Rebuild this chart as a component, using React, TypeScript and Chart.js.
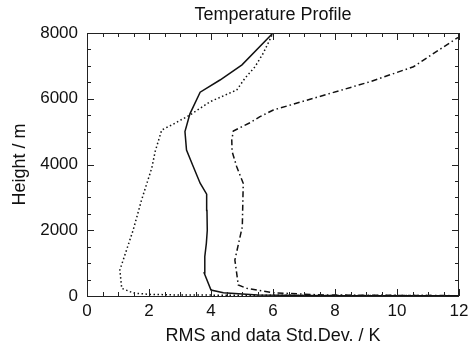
import React, { useEffect, useRef } from "react";
import Chart from "chart.js/auto";

const chartTitle = "Temperature Profile";
const xAxisTitle = "RMS and data Std.Dev. / K";
const yAxisTitle = "Height / m";
const xTickValues = [0, 2, 4, 6, 8, 10, 12];
const yTickValues = [0, 2000, 4000, 6000, 8000];

// Solid profile
const solidX = [12, 8, 5.5, 4.4, 4.0, 3.78, 3.8, 3.85, 3.88, 3.87, 3.86, 3.65, 3.43, 3.21, 3.16, 3.32, 3.65, 4.29, 5.0, 6.0];
const solidY = [5, 10, 30, 100, 180, 700, 1200, 1600, 2000, 2600, 3100, 3430, 3930, 4440, 5000, 5540, 6200, 6570, 7030, 8000];

// Dotted profile
const dottedX = [12, 6, 3, 2, 1.5, 1.12, 1.06, 1.49, 1.76, 2.09, 2.2, 2.41, 2.73, 3.32, 3.97, 4.83, 5.1, 5.42, 5.69, 6.0];
const dottedY = [10, 20, 30, 50, 90, 234, 790, 2007, 2920, 3893, 4400, 5049, 5201, 5505, 5910, 6266, 6630, 6974, 7392, 8000];

// Dash-dot profile
const dashDotX = [12, 7.6, 6.0, 5.15, 4.88, 4.77, 5.01, 5.04, 4.83, 4.68, 4.67, 4.72, 5.26, 5.58, 6.01, 9.13, 10.53, 11.92, 12];
const dashDotY = [10, 30, 100, 234, 335, 1095, 2108, 3428, 3930, 4400, 4745, 5020, 5271, 5454, 5657, 6518, 6974, 7836, 7870];

const toPoints = (xs: number[], ys: number[]) => xs.map((x, i) => ({ x, y: ys[i] }));

const FONT = "'Liberation Sans', Arial, Helvetica, sans-serif";

const framePlugin = {
  id: "frameTicks",
  afterDraw(chart: any) {
    const { ctx, chartArea } = chart;
    const xs = chart.scales.x;
    const ys = chart.scales.y;
    const { left, right, top, bottom } = chartArea;
    ctx.save();
    ctx.strokeStyle = "#222";
    ctx.lineWidth = 1;
    ctx.strokeRect(left + 0.5, top + 0.5, right - left - 1, bottom - top);
    ctx.beginPath();
    for (let v = 0; v <= 12.001; v += 0.5) {
      const px = Math.round(xs.getPixelForValue(v)) + 0.5;
      const len = Math.abs(v % 2) < 1e-6 ? 7 : 4;
      ctx.moveTo(px, bottom);
      ctx.lineTo(px, bottom - len);
      ctx.moveTo(px, top);
      ctx.lineTo(px, top + len);
    }
    for (let v = 0; v <= 8000.1; v += 500) {
      const py = Math.round(ys.getPixelForValue(v)) + 0.5;
      const len = Math.abs(v % 2000) < 1e-6 ? 7 : 4;
      ctx.moveTo(left, py);
      ctx.lineTo(left + len, py);
      ctx.moveTo(right, py);
      ctx.lineTo(right - len, py);
    }
    ctx.stroke();

    ctx.fillStyle = "#111";
    ctx.font = `18px ${FONT}`;
    ctx.textAlign = "center";
    ctx.textBaseline = "middle";
    ctx.fillText(chartTitle, (left + right) / 2, 15);
    ctx.fillText(xAxisTitle, (left + right) / 2, 336);
    ctx.translate(20, (top + bottom) / 2);
    ctx.rotate(-Math.PI / 2);
    ctx.fillText(yAxisTitle, 0, 0);
    ctx.restore();
  },
};

export default function App() {
  const ref = useRef<HTMLCanvasElement | null>(null);
  useEffect(() => {
    if (!ref.current) return;
    const lineBase = {
      showLine: true,
      pointRadius: 0,
      borderColor: "#111",
      borderWidth: 1.5,
      fill: false,
      tension: 0,
    };
    const chart = new Chart(ref.current, {
      type: "scatter",
      data: {
        datasets: [
          { ...lineBase, label: "solid", data: toPoints(solidX, solidY) },
          { ...lineBase, label: "dotted", data: toPoints(dottedX, dottedY), borderDash: [1.5, 2.5] },
          { ...lineBase, label: "dashdot", data: toPoints(dashDotX, dashDotY), borderDash: [6, 3, 1.5, 3] },
        ],
      },
      options: {
        animation: false,
        responsive: false,
        devicePixelRatio: 1,
        layout: { padding: { top: 33, right: 9, left: 0, bottom: 0 } },
        plugins: { legend: { display: false }, tooltip: { enabled: false }, title: { display: false } },
        scales: {
          x: {
            type: "linear",
            min: 0,
            max: 12,
            afterFit: (s: any) => { s.height = 50; s.paddingLeft = 0; s.paddingRight = 0; },
            afterBuildTicks: (s: any) => { s.ticks = xTickValues.map((v) => ({ value: v })); },
            grid: { display: false, drawTicks: false },
            border: { display: false },
            ticks: { color: "#111", padding: 5, font: { size: 17, family: FONT }, maxRotation: 0 },
          },
          y: {
            type: "linear",
            min: 0,
            max: 8000,
            afterFit: (s: any) => { s.width = 87; s.paddingTop = 0; s.paddingBottom = 0; },
            afterBuildTicks: (s: any) => { s.ticks = yTickValues.map((v) => ({ value: v })); },
            grid: { display: false, drawTicks: false },
            border: { display: false },
            ticks: { color: "#111", padding: 9, font: { size: 17, family: FONT }, callback: (v: any) => String(v) },
          },
        },
      },
      plugins: [framePlugin],
    });
    return () => chart.destroy();
  }, []);
  return (
    <div style={{ position: "fixed", left: 0, top: 0, width: 468, height: 346, background: "#fff" }}>
      <canvas ref={ref} width={468} height={346} style={{ width: 468, height: 346 }} />
    </div>
  );
}
